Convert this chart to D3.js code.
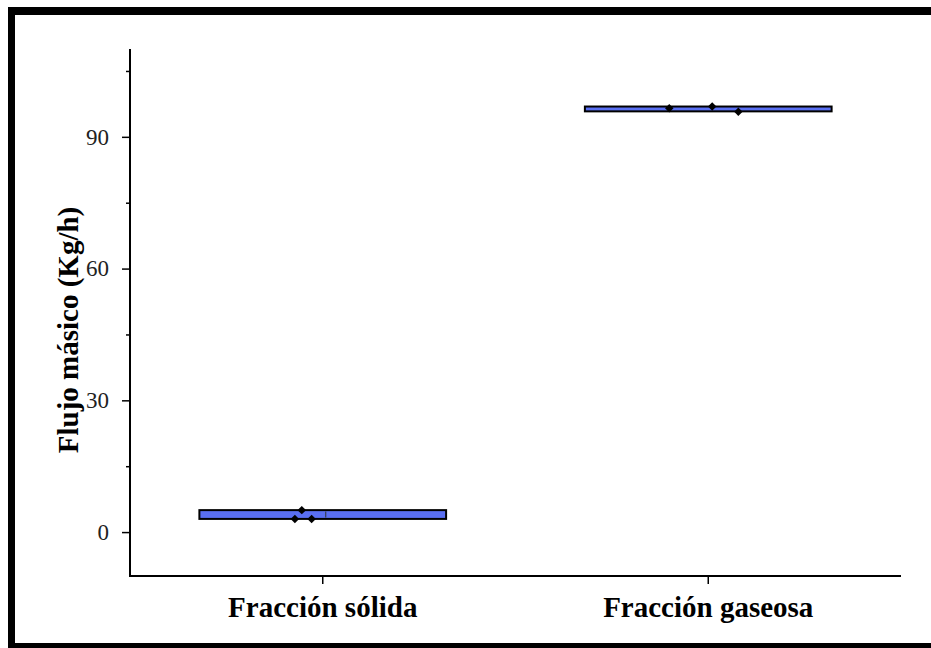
<!DOCTYPE html>
<html>
<head>
<meta charset="utf-8">
<script src="https://cdn.jsdelivr.net/npm/d3@7"></script>
<style>
  html, body { margin: 0; padding: 0; background: #fff; overflow: hidden; }
  svg { display: block; }
</style>
</head>
<body>
<svg id="chart" width="931" height="648"></svg>
<script>
// Mass flow per fraction (kg/h)
const categories = ["Fracción sólida", "Fracción gaseosa"];
const boxLow  = [3.0, 95.8];   // lower box edge (Q1)
const boxHigh = [5.0, 96.9];   // upper box edge (Q3)
const pointsSolida  = [3.0, 5.0, 3.0];
const pointsGaseosa = [96.5, 96.9, 95.7];
// horizontal spread of the raw points, as a fraction of the box width
const jitterSolida  = [-0.113, -0.085, -0.045];
const jitterGaseosa = [-0.158, 0.016, 0.122];
const yTicks = [0, 30, 60, 90];
const yMinorTicks = [-15, 15, 45, 75, 105];
const yTitle = "Flujo másico (Kg/h)";

const serif = "'Liberation Serif', 'Times New Roman', serif";
const svg = d3.select("#chart");

// outer frame: left, top and bottom edges only
const frame = svg.append("g").attr("fill", "#000");
frame.append("rect").attr("x", 8).attr("y", 7).attr("width", 931 - 8).attr("height", 8);
frame.append("rect").attr("x", 8).attr("y", 7).attr("width", 7).attr("height", 641);
frame.append("rect").attr("x", 8).attr("y", 643).attr("width", 931 - 8).attr("height", 5);

const plotL = 130, plotR = 901, plotT = 49, plotB = 576;

const x = d3.scaleBand().domain(categories).range([plotL, plotR]).padding(0);
const y = d3.scaleLinear().domain([-10, 110]).range([plotB, plotT]);
const boxW = x.bandwidth() * 0.64;

const g = svg.append("g");

// y axis
const yAxis = g.append("g").attr("transform", `translate(${plotL},0)`)
  .call(d3.axisLeft(y).tickValues(yTicks).tickSize(8).tickSizeOuter(0).tickPadding(13));
yAxis.select(".domain").remove();
yAxis.selectAll(".tick line").attr("stroke", "#000").attr("stroke-width", 1.5);
yAxis.selectAll(".tick text")
  .attr("font-family", serif)
  .attr("font-size", 23).attr("fill", "#222");

const yMinor = g.append("g").attr("transform", `translate(${plotL},0)`)
  .call(d3.axisLeft(y).tickValues(yMinorTicks.filter(v => v > -10 && v < 110)).tickSize(4).tickFormat(""));
yMinor.select(".domain").remove();
yMinor.selectAll(".tick line").attr("stroke", "#000").attr("stroke-width", 1.5);

// x axis
const xAxis = g.append("g").attr("transform", `translate(0,${plotB})`)
  .call(d3.axisBottom(x).tickSize(8).tickSizeOuter(0).tickPadding(12));
xAxis.select(".domain").remove();
xAxis.selectAll(".tick line").attr("stroke", "#000").attr("stroke-width", 1.5);
xAxis.selectAll(".tick text")
  .attr("font-family", serif)
  .attr("font-weight", "bold").attr("font-size", 29).attr("fill", "#000");

// axis lines
g.append("line").attr("x1", plotL).attr("x2", plotL).attr("y1", plotT).attr("y2", plotB + 1)
  .attr("stroke", "#000").attr("stroke-width", 2);
g.append("line").attr("x1", plotL - 1).attr("x2", plotR).attr("y1", plotB).attr("y2", plotB)
  .attr("stroke", "#000").attr("stroke-width", 2);

// y title
svg.append("text")
  .attr("transform", `translate(78,330) rotate(-90)`)
  .attr("text-anchor", "middle")
  .attr("font-family", serif)
  .attr("font-weight", "bold").attr("font-size", 29)
  .text(yTitle);

// boxes
const boxes = categories.map((c, i) => ({ c, lo: boxLow[i], hi: boxHigh[i] }));
g.selectAll("rect.box").data(boxes).join("rect")
  .attr("class", "box")
  .attr("x", d => x(d.c) + x.bandwidth() / 2 - boxW / 2)
  .attr("y", d => y(d.hi))
  .attr("width", boxW)
  .attr("height", d => y(d.lo) - y(d.hi))
  .attr("fill", "#5a6ff2")
  .attr("stroke", "#000").attr("stroke-width", 2);

// small centre mark inside the solid-fraction box
const cx0 = x(categories[0]) + x.bandwidth() / 2 + 3;
const cy0 = y((boxLow[0] + boxHigh[0]) / 2);
g.append("line")
  .attr("x1", cx0).attr("x2", cx0)
  .attr("y1", cy0 - 3).attr("y2", cy0 + 3)
  .attr("stroke", "#333").attr("stroke-width", 1);

// raw data points
const pts = [];
pointsSolida.forEach((v, i) => pts.push({ c: categories[0], v, j: jitterSolida[i] }));
pointsGaseosa.forEach((v, i) => pts.push({ c: categories[1], v, j: jitterGaseosa[i] }));
const diamond = d3.symbol().type(d3.symbolSquare).size(36);
g.selectAll("path.pt").data(pts).join("path")
  .attr("class", "pt")
  .attr("d", diamond)
  .attr("transform", d => `translate(${x(d.c) + x.bandwidth() / 2 + d.j * boxW},${y(d.v)}) rotate(45)`)
  .attr("fill", "#000");
</script>
</body>
</html>
